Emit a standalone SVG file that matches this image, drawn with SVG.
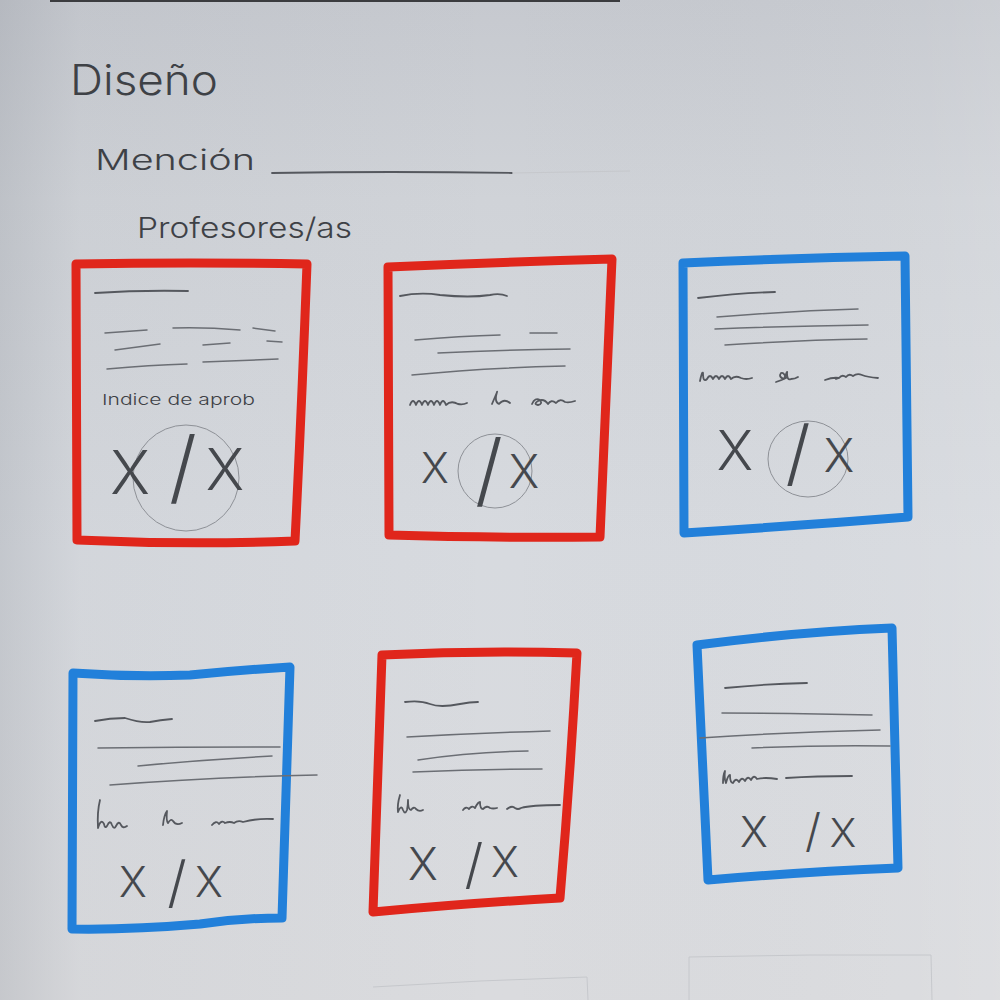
<svg xmlns="http://www.w3.org/2000/svg" width="1000" height="1000" viewBox="0 0 1000 1000">
  <defs>
    <linearGradient id="paper" x1="0" y1="0" x2="0" y2="1">
      <stop offset="0" stop-color="#c6c9cf"/>
      <stop offset="0.2" stop-color="#d0d3d8"/>
      <stop offset="0.55" stop-color="#d7dadf"/>
      <stop offset="1" stop-color="#dadbde"/>
    </linearGradient>
    <linearGradient id="edgeShade" x1="0" y1="0" x2="1" y2="0">
      <stop offset="0" stop-color="#6a707a" stop-opacity="0.18"/>
      <stop offset="0.08" stop-color="#6a707a" stop-opacity="0.04"/>
      <stop offset="0.5" stop-color="#6a707a" stop-opacity="0"/>
      <stop offset="0.92" stop-color="#ffffff" stop-opacity="0.04"/>
      <stop offset="1" stop-color="#ffffff" stop-opacity="0.1"/>
    </linearGradient>
    <style>
      .hand { font-family: Inter, "Liberation Sans", sans-serif; font-weight: 300; fill: #3e4146; }
      .mark { font-family: Inter, "Liberation Sans", sans-serif; font-weight: 300; fill: #45484d; text-anchor: middle; }
      .red { fill: none; stroke: #e0261b; stroke-width: 9; stroke-linecap: round; stroke-linejoin: round; }
      .blue { fill: none; stroke: #2280da; stroke-width: 9; stroke-linecap: round; stroke-linejoin: round; }
      .pen { fill: none; stroke: #55585e; stroke-width: 1.8; stroke-linecap: round; stroke-linejoin: round; }
      .pen-soft { fill: none; stroke: #6b6e74; stroke-width: 1.5; stroke-linecap: round; }
      .ring { fill: none; stroke: #8e9197; stroke-width: 1; }
      .ghost { fill: none; stroke: #c6c8cc; stroke-width: 1; }
    </style>
  </defs>

  <!-- paper -->
  <rect width="1000" height="1000" fill="url(#paper)"/>
  <rect width="1000" height="1000" fill="url(#edgeShade)"/>
  <rect x="50" y="0" width="570" height="2" fill="#3b3c3f"/>

  <!-- faint marks from the sheet underneath -->
  <path class="ghost" d="M373,987 Q480,980 587,977 L588,1000"/>
  <path class="ghost" d="M689,1000 L689,957 Q810,954 931,955 L932,1000"/>

  <!-- page heading -->
  <g id="heading">
    <text class="hand" x="70" y="95" font-size="42" textLength="148" lengthAdjust="spacingAndGlyphs">Diseño</text>
    <text class="hand" x="95" y="170" font-size="28" textLength="160" lengthAdjust="spacingAndGlyphs">Mención</text>
    <path class="pen" d="M272,173 Q390,171 512,173"/>
    <path class="ghost" d="M512,173 Q570,172 630,171"/>
    <text class="hand" x="137" y="238" font-size="28" textLength="215" lengthAdjust="spacingAndGlyphs">Profesores/as</text>
  </g>

  <!-- card 1 -->
  <g id="card-1">
    <path class="red" d="M77,540 L76,264 Q190,262 307,264 Q302,400 295,541 Q185,545 77,540 Z"/>
    <path class="pen" d="M95,293 Q140,290 188,291"/>
    <path class="pen-soft" d="M105,333 L147,330 M173,328 Q205,327 240,330 M253,328 L275,331"/>
    <path class="pen-soft" d="M115,350 L160,344 M203,345 L230,343 M267,341 L282,342"/>
    <path class="pen-soft" d="M107,369 Q150,365 187,364 M203,362 L278,359"/>
    <text class="hand" x="102" y="405" font-size="15" textLength="153" lengthAdjust="spacingAndGlyphs">Indice de aprob</text>
    <circle class="ring" cx="186" cy="478" r="53"/>
    <text class="mark"><tspan x="130" y="494" font-size="60">X</tspan><tspan x="183" y="495" font-size="80">/</tspan><tspan x="225" y="490" font-size="58">X</tspan></text>
  </g>

  <!-- card 2 -->
  <g id="card-2">
    <path class="red" d="M389,535 L388,267 Q500,262 612,259 Q606,400 600,537 Q490,538 389,535 Z"/>
    <path class="pen" d="M400,296 Q420,292 440,295 Q470,298 490,295 Q500,293 507,296"/>
    <path class="pen-soft" d="M415,340 Q460,336 500,335 M530,333 L557,333"/>
    <path class="pen-soft" d="M438,353 Q500,350 570,349"/>
    <path class="pen-soft" d="M412,375 Q480,368 565,366"/>
    <path class="pen" d="M410,405 q3,-8 6,0 q3,-8 6,0 q3,-8 6,0 q3,-8 6,0 q3,-8 6,0 q3,-8 6,0 q5,-5 12,-1 q5,1 9,-1"/>
    <path class="pen" d="M492,404 q6,-14 5,-12 q-3,10 2,12 q5,-6 11,-1"/>
    <path class="pen" d="M532,404 q3,-7 8,-4 q3,4 -2,5 q-5,-1 0,-4 q6,-3 10,3 q3,-5 8,-1 q4,-5 9,-1 q4,1 10,-1"/>
    <circle class="ring" cx="495" cy="471" r="37"/>
    <text class="mark"><tspan x="435" y="483" font-size="42">X</tspan><tspan x="489" y="498" font-size="80">/</tspan><tspan x="524" y="488" font-size="46">X</tspan></text>
  </g>

  <!-- card 3 -->
  <g id="card-3">
    <path class="blue" d="M684,533 L683,263 Q795,258 905,256 Q906,390 908,517 Q795,526 684,533 Z"/>
    <path class="pen" d="M698,298 Q740,293 775,292"/>
    <path class="pen-soft" d="M717,317 Q790,311 858,309"/>
    <path class="pen-soft" d="M715,329 Q790,326 868,325"/>
    <path class="pen-soft" d="M725,345 Q800,340 867,339"/>
    <path class="pen" d="M700,381 q2,-10 3,-8 q0,10 4,6 q3,-6 6,0 q3,-6 6,0 q3,-6 6,0 q3,-6 6,0 q4,-4 10,-1 q5,2 11,0"/>
    <path class="pen" d="M776,382 q6,-2 10,-4 q-2,-6 -5,-5 q-3,4 3,6 q4,-10 3,-6 q0,8 4,6 q4,0 7,-2"/>
    <path class="pen" d="M825,380 q8,-3 14,-2 q-6,2 0,0 q3,-4 7,-1 q3,-4 7,-1 q4,-3 9,-1 q5,2 16,3"/>
    <ellipse class="ring" cx="808" cy="459" rx="40" ry="38"/>
    <text class="mark"><tspan x="735" y="470" font-size="55">X</tspan><tspan x="798" y="478" font-size="72">/</tspan><tspan x="839" y="472" font-size="46">X</tspan></text>
  </g>

  <!-- card 4 -->
  <g id="card-4">
    <path class="blue" d="M72,929 L73,673 Q130,677 190,675 Q240,670 290,667 Q286,790 282,918 Q240,918 200,924 Q130,930 72,929 Z"/>
    <path class="pen" d="M95,721 Q110,718 125,718 Q140,723 150,722 Q160,720 172,719"/>
    <path class="pen-soft" d="M98,748 Q190,747 280,747"/>
    <path class="pen-soft" d="M138,766 Q200,760 272,756"/>
    <path class="pen-soft" d="M110,785 Q210,777 317,775"/>
    <path class="pen" d="M100,800 q-3,12 -2,28 q3,-10 6,-4 q1,5 3,2 q3,-7 5,-1 q2,5 4,1 q3,-6 5,-1 q2,4 6,1"/>
    <path class="pen" d="M163,825 q1,-10 4,-14 q-1,10 1,12 q3,-5 5,-2 q3,5 9,2"/>
    <path class="pen" d="M212,825 q4,-5 7,-1 q3,-4 6,-1 q5,-2 9,0 q4,-3 9,-1 q15,-4 30,-3"/>
    <text class="mark"><tspan x="133" y="897" font-size="42">X</tspan><tspan x="177" y="902" font-size="56">/</tspan><tspan x="209" y="897" font-size="42">X</tspan></text>
  </g>

  <!-- card 5 -->
  <g id="card-5">
    <path class="red" d="M373,912 L382,655 Q480,650 577,653 Q570,780 560,898 Q470,903 373,912 Z"/>
    <path class="pen" d="M405,702 Q420,700 430,704 Q440,708 460,704 Q470,702 478,702"/>
    <path class="pen-soft" d="M407,737 Q480,733 550,731"/>
    <path class="pen-soft" d="M418,760 Q470,752 528,751"/>
    <path class="pen-soft" d="M413,772 Q480,769 542,769"/>
    <path class="pen" d="M400,795 q-3,10 -2,17 q3,-8 5,-2 q2,5 4,0 q1,-5 1,-10 q0,10 3,10 q3,-4 5,-1 q3,3 7,1"/>
    <path class="pen" d="M463,810 q3,-4 6,-1 q3,-4 6,-1 q3,-6 5,-6 q0,7 3,7 q4,-4 7,-1 q3,1 7,0"/>
    <path class="pen" d="M507,809 q5,-4 8,-1 q3,2 6,0 q10,-3 39,-3"/>
    <text class="mark"><tspan x="423" y="880" font-size="45">X</tspan><tspan x="474" y="883" font-size="54">/</tspan><tspan x="505" y="877" font-size="42">X</tspan></text>
  </g>

  <!-- card 6 -->
  <g id="card-6">
    <path class="blue" d="M708,880 L697,645 Q795,632 892,628 Q895,750 898,868 Q800,872 708,880 Z"/>
    <path class="pen" d="M725,688 Q765,684 807,683"/>
    <path class="pen-soft" d="M722,713 Q800,713 872,715"/>
    <path class="pen-soft" d="M700,738 Q790,732 880,730"/>
    <path class="pen-soft" d="M752,748 Q820,745 890,746"/>
    <path class="pen" d="M723,783 q0,-8 2,-12 q-1,8 1,12 q2,-8 4,-8 q0,8 3,8 q3,-6 6,-1 q3,-6 6,-1 q3,-6 6,-1 q3,-6 6,-1 q8,-2 20,0"/>
    <path class="pen" d="M786,778 q30,-2 66,-2"/>
    <text class="mark"><tspan x="754" y="847" font-size="42">X</tspan><tspan x="813" y="847" font-size="46">/</tspan><tspan x="843" y="847" font-size="40">X</tspan></text>
  </g>
</svg>
